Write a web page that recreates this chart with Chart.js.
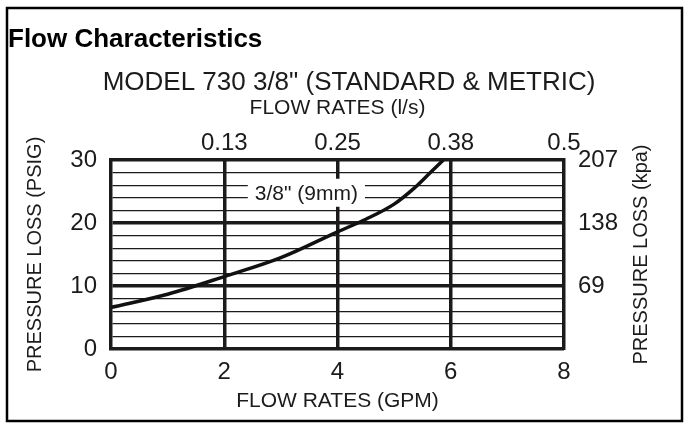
<!DOCTYPE html>
<html>
<head>
<meta charset="utf-8">
<script src="https://cdn.jsdelivr.net/npm/chart.js@4.4.0/dist/chart.umd.min.js"></script>
<style>
    body { margin: 0; background: #fff; }
    #wrap { width: 690px; height: 427px; }
</style>
</head>
<body>
<div id="wrap"><canvas id="flowChart" width="690" height="427"></canvas></div>
<script>
// curve: flow in GPM vs pressure loss in PSIG
const gpmValues = [0, 1, 2, 3, 4, 4.5, 5, 5.35, 5.65, 5.87];
const psiValues = [6.6, 8.7, 11.5, 14.5, 18.6, 20.6, 23, 25.5, 28.1, 30];

// top axis (l/s) labels at 0, 2, 4, 6, 8 GPM
const lsTickLabels = ["", "0.13", "0.25", "0.38", "0.5"];
// right axis (kpa) labels at 0, 10, 20, 30 PSIG
const kpaTickLabels = ["", "69", "138", "207"];

const curveLabel = "3/8\" (9mm)";
const curveLabelAt = [3.45, 24.8];

const ink = "#1c1a1b";
const FONT = "'Liberation Sans', Arial, Helvetica, sans-serif";

const extras = {
    id: "extras",
    beforeDatasetsDraw(chart) {
        const { ctx, scales } = chart;
        const cx = scales.x.getPixelForValue(curveLabelAt[0]);
        const cy = scales.y.getPixelForValue(curveLabelAt[1]);
        ctx.save();
        ctx.font = "21px " + FONT;
        const w = ctx.measureText(curveLabel).width + 14;
        ctx.fillStyle = "#fff";
        ctx.fillRect(cx - w / 2, cy - 14, w, 28);
        ctx.fillStyle = ink;
        ctx.textAlign = "center";
        ctx.textBaseline = "middle";
        ctx.fillText(curveLabel, cx, cy + 1);
        ctx.restore();
    },
    afterDraw(chart) {
        const { ctx, chartArea } = chart;
        ctx.save();
        // right axis title, reading bottom to top like the left one
        ctx.translate(641, (chartArea.top + chartArea.bottom) / 2);
        ctx.rotate(-Math.PI / 2);
        ctx.font = "20px " + FONT;
        ctx.fillStyle = ink;
        ctx.textAlign = "center";
        ctx.textBaseline = "middle";
        ctx.fillText("PRESSURE LOSS (kpa)", 0, 0);
        ctx.restore();

        // frame round the whole figure
        ctx.save();
        ctx.strokeStyle = "#000";
        ctx.lineWidth = 2.5;
        ctx.strokeRect(7, 8, 675, 413);
        ctx.restore();
    }
};

const ctx = document.getElementById("flowChart");

new Chart(ctx, {
    type: "line",
    data: {
        labels: gpmValues,
        datasets: [{
            data: gpmValues.map((g, i) => ({ x: g, y: psiValues[i] })),
            borderColor: "#111",
            borderWidth: 3.5,
            pointRadius: 0,
            cubicInterpolationMode: "monotone",
            fill: false
        }]
    },
    options: {
        responsive: false,
        animation: false,
        events: [],
        layout: {
            padding: { left: 8, right: 0, top: 0, bottom: 8 }
        },
        plugins: {
            legend: { display: false },
            tooltip: { enabled: false },
            title: {
                display: true,
                text: "Flow Characteristics",
                align: "start",
                color: "#000",
                font: { family: FONT, size: 26, weight: "bold", lineHeight: 1 },
                padding: { top: 27, bottom: 0 }
            },
            subtitle: {
                display: true,
                text: "MODEL 730 3/8\" (STANDARD & METRIC)",
                color: ink,
                font: { family: FONT, size: 26, lineHeight: 1 },
                padding: { top: 17, bottom: 0 }
            }
        },
        scales: {
            x: {
                type: "linear",
                position: "bottom",
                min: 0,
                max: 8,
                afterFit: (s) => { s.height = 70; },
                ticks: {
                    stepSize: 2,
                    autoSkip: false,
                    maxRotation: 0,
                    padding: 9,
                    color: ink,
                    font: { family: FONT, size: 24 }
                },
                grid: {
                    drawTicks: false,
                    color: ink,
                    lineWidth: (c) => (c.tick && c.tick.value > 0 && c.tick.value < 8 ? 3.5 : 0)
                },
                border: { display: true, color: ink, width: 3.5 },
                title: {
                    display: true,
                    text: "FLOW RATES (GPM)",
                    color: ink,
                    font: { family: FONT, size: 21 },
                    padding: { top: 0, bottom: 5 }
                }
            },
            x2: {
                type: "linear",
                position: "top",
                min: 0,
                max: 8,
                afterFit: (s) => { s.height = 64; },
                ticks: {
                    stepSize: 2,
                    autoSkip: false,
                    maxRotation: 0,
                    padding: 2,
                    color: ink,
                    font: { family: FONT, size: 24 },
                    callback: (v, i) => lsTickLabels[i]
                },
                grid: { display: false, drawTicks: false },
                border: { display: true, color: ink, width: 3.5 },
                title: {
                    display: true,
                    text: "FLOW RATES (l/s)",
                    color: ink,
                    font: { family: FONT, size: 21 },
                    padding: { top: 0, bottom: 0 }
                }
            },
            y: {
                position: "left",
                min: 0,
                max: 30,
                afterFit: (s) => { s.width = 103; },
                ticks: {
                    stepSize: 2,
                    autoSkip: false,
                    padding: 14,
                    color: ink,
                    font: { family: FONT, size: 24 },
                    callback: (v) => (v % 10 === 0 ? v : "")
                },
                grid: {
                    drawTicks: false,
                    color: ink,
                    lineWidth: (c) => {
                        const v = c.tick ? c.tick.value : 0;
                        if (v === 0 || v === 30) return 0;
                        return v % 10 === 0 ? 3.5 : 1.2;
                    }
                },
                border: { display: true, color: ink, width: 3.5 },
                title: {
                    display: true,
                    text: "PRESSURE LOSS (PSIG)",
                    color: ink,
                    font: { family: FONT, size: 20 },
                    padding: { top: 15, bottom: 0 }
                }
            },
            y2: {
                position: "right",
                min: 0,
                max: 30,
                afterFit: (s) => { s.width = 126; },
                ticks: {
                    stepSize: 10,
                    autoSkip: false,
                    padding: 14,
                    color: ink,
                    font: { family: FONT, size: 24 },
                    callback: (v, i) => kpaTickLabels[i]
                },
                grid: { display: false, drawTicks: false },
                border: { display: true, color: ink, width: 3.5 }
            }
        }
    },
    plugins: [extras]
});
</script>
</body>
</html>
